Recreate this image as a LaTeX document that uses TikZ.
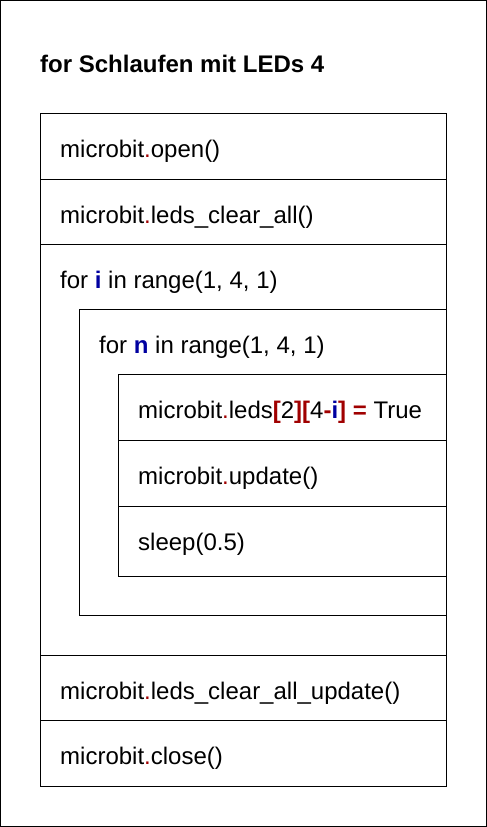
\documentclass[tikz,border=0pt]{standalone}
\usepackage{fontspec}
\setmainfont{Liberation Sans}
\usetikzlibrary{positioning}
\definecolor{pyred}{HTML}{A00000}
\definecolor{pyblue}{HTML}{0000A0}
\newcommand{\rdot}{\textcolor{pyred}{.}}
\newcommand{\bvar}[1]{\textcolor{pyblue}{\textbf{#1}}}
\newcommand{\rsym}[1]{\textcolor{pyred}{\textbf{#1}}}
\tikzset{
  block/.style={draw, line width=1pt, anchor=north west, inner sep=0pt},
  code/.style={anchor=base west, inner sep=0pt, font=\fontsize{24}{28}\selectfont},
}
\begin{document}
\begin{tikzpicture}[x=1pt, y=-1pt]
        \useasboundingbox (0,0) rectangle (487,827);
        \draw[line width=1pt] (0.5,0.5) rectangle (486.5,826.5);
        \node[code, font=\fontsize{24}{28}\selectfont\bfseries] (title) at (40,72) {for Schlaufen mit LEDs 4};

        % outer blocks
        \node[block, minimum width=406pt, minimum height=66pt] (open) at (40,113) {};
        \node[block, minimum width=406pt, minimum height=65pt] (clear) at (40,179) {};
        \node[block, minimum width=406pt, minimum height=411pt] (fori) at (40,244) {};
        \node[block, minimum width=406pt, minimum height=65pt] (clrupd) at (40,655) {};
        \node[block, minimum width=406pt, minimum height=66pt] (close) at (40,720) {};

        % inner blocks
        \node[block, minimum width=367pt, minimum height=306pt] (forn) at (79,309) {};
        \node[block, minimum width=328pt, minimum height=66pt] (leds) at (118,374) {};
        \node[block, minimum width=328pt, minimum height=66pt] (update) at (118,440) {};
        \node[block, minimum width=328pt, minimum height=70pt] (sleep) at (118,506) {};

        % texts
        \node[code] (openlbl) at ([xshift=20pt, yshift=-44pt]open.north west) {microbit\rdot open()};
        \node[code] (clearlbl) at ([xshift=20pt, yshift=-44pt]clear.north west) {microbit\rdot leds\_clear\_all()};
        \node[code] (forilbl) at ([xshift=20pt, yshift=-44pt]fori.north west) {for \bvar{i} in range(1, 4, 1)};
        \node[code] (fornlbl) at ([xshift=20pt, yshift=-44pt]forn.north west) {for \bvar{n} in range(1, 4, 1)};
        \node[code] (ledslbl) at ([xshift=20pt, yshift=-44pt]leds.north west) {microbit\rdot leds\rsym{[}2\rsym{]}\rsym{[}4\rsym{-}\bvar{i}\rsym{]} \rsym{=} True};
        \node[code] (updatelbl) at ([xshift=20pt, yshift=-44pt]update.north west) {microbit\rdot update()};
        \node[code] (sleeplbl) at ([xshift=20pt, yshift=-44pt]sleep.north west) {sleep(0.5)};
        \node[code] (clrupdlbl) at ([xshift=20pt, yshift=-44pt]clrupd.north west) {microbit\rdot leds\_clear\_all\_update()};
        \node[code] (closelbl) at ([xshift=20pt, yshift=-44pt]close.north west) {microbit\rdot close()};
    \end{tikzpicture}
\end{document}
